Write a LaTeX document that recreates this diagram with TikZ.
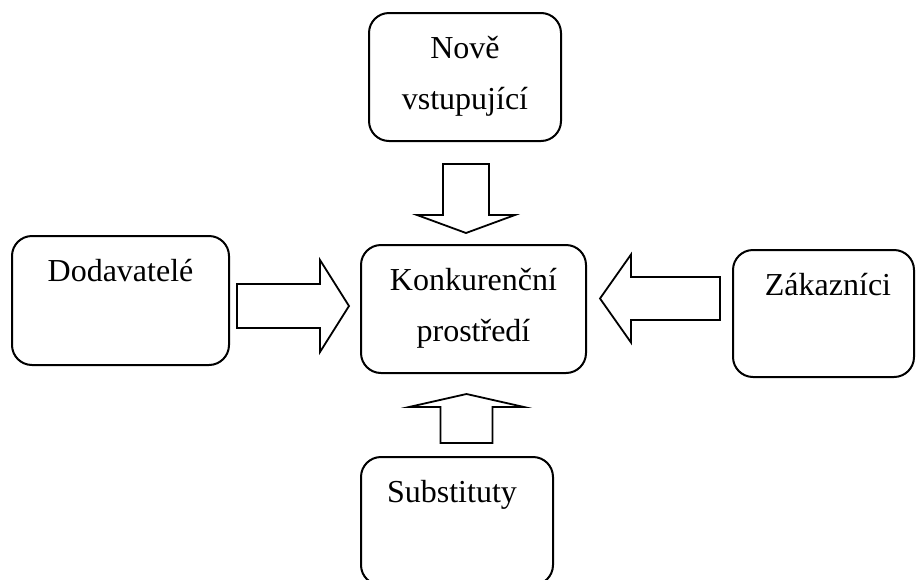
\documentclass[tikz,border=0pt]{standalone}
\usepackage{fontspec}
\setmainfont{Liberation Serif}
\usetikzlibrary{calc}

\tikzset{
  box/.style={draw, line width=2pt, rounded corners=20pt, inner sep=0pt},
  boxtext/.style={anchor=base, align=center, inner sep=0pt,
    font=\fontsize{32}{51}\selectfont},
  arrowline/.style={draw, line width=1.8pt, line join=miter},
  blockarrow/.style n args={3}{to path={
    let \p1=(\tikztostart), \p2=(\tikztotarget),
        \p3=($(\tikztotarget)!#3pt!(\tikztostart)$)
    in ($(\p1)!#1pt!90:(\p2)$)
    -- ($(\p3)!#1pt!90:(\p2)$) -- ($(\p3)!#2pt!90:(\p2)$)
    -- (\p2)
    -- ($(\p3)!#2pt!-90:(\p2)$) -- ($(\p3)!#1pt!-90:(\p2)$)
    -- ($(\p1)!#1pt!-90:(\p2)$) -- cycle}}
}

\begin{document}
\begin{tikzpicture}[x=1pt, y=-1pt]
  \useasboundingbox (0,0) rectangle (916,579);

  % boxes
  \node[box, minimum width=192, minimum height=128] (nove) at (465,77) {};
  \node[box, minimum width=217, minimum height=129] (dod) at (120.5,300.5) {};
  \node[box, minimum width=225, minimum height=128] (konk) at (473.5,309) {};
  \node[box, minimum width=181, minimum height=127] (zak) at (823.5,313.5) {};
  \node[box, minimum width=192, minimum height=128] (subst) at (457,521) {};

  % texts (base = last line)
  \node[boxtext] (noveText) at ([yshift=-97]nove.north) {Nově\\vstupující};
  \node[boxtext] (dodText) at ([yshift=-46]dod.north) {Dodavatelé};
  \node[boxtext] (konkText) at ([yshift=-97]konk.north) {Konkurenční\\prostředí};
  \node[boxtext] (zakText) at ([xshift=4.5,yshift=-46]zak.north) {Zákazníci};
  \node[boxtext] (substText) at ([xshift=-5,yshift=-46]subst.north) {Substituty};

  % arrow ends
  \coordinate (tailN) at (466,164);   \coordinate (tipN) at (466,233);
  \coordinate (tailD) at (237,306);   \coordinate (tipD) at (349,306);
  \coordinate (tailZ) at (720,298.5); \coordinate (tipZ) at (600,298.5);
  \coordinate (tailS) at (466.5,443); \coordinate (tipS) at (466.5,394);

  \draw[arrowline] (tailN) to[blockarrow={23}{49}{18}] (tipN);
  \draw[arrowline] (tailD) to[blockarrow={22}{46}{29}] (tipD);
  \draw[arrowline] (tailZ) to[blockarrow={21.5}{44}{31}] (tipZ);
  \draw[arrowline] (tailS) to[blockarrow={26}{57.5}{13}] (tipS);
\end{tikzpicture}
\end{document}
